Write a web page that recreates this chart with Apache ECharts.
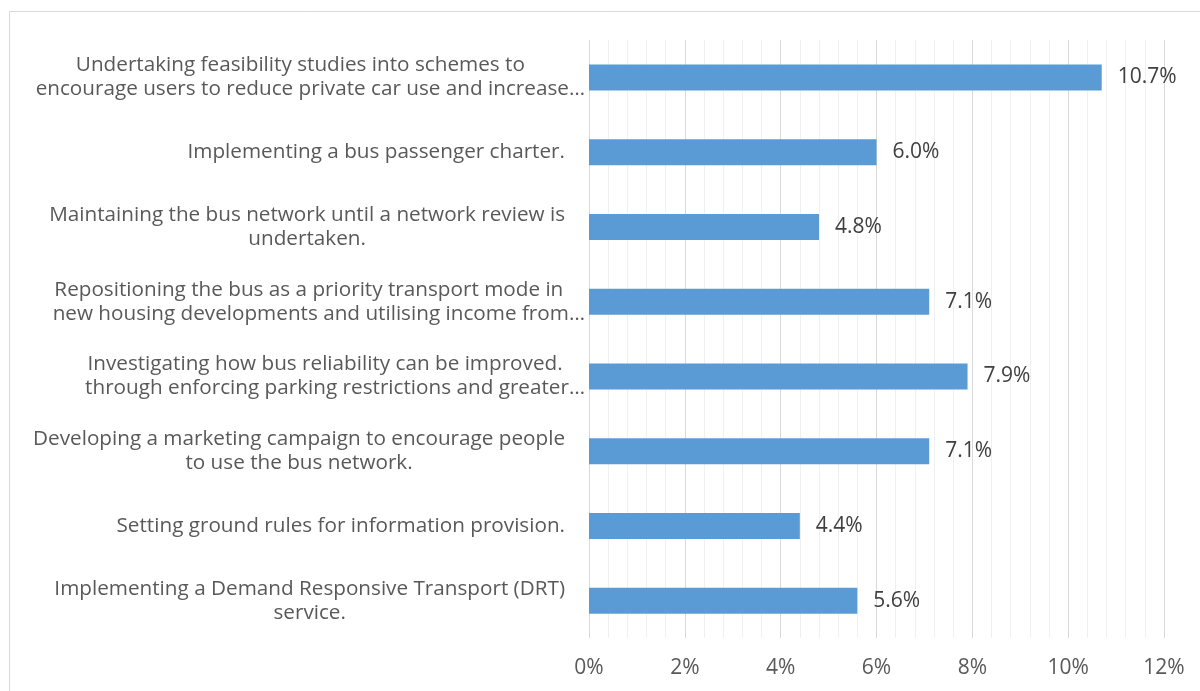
<!DOCTYPE html>
<html>
<head>
<meta charset="utf-8">
<script src="https://cdn.jsdelivr.net/npm/echarts@6/dist/echarts.min.js"></script>
<style>
html,body{margin:0;padding:0;background:#fff;}
#chart{width:1200px;height:691px;}
</style>
</head>
<body>
<div id="chart"></div>
<script>
var categories = [
  "Undertaking feasibility studies into schemes to\nencourage users to reduce private car use and increase\u2026",
  "Implementing a bus passenger charter.",
  "Maintaining the bus network until a network review is\nundertaken.",
  "Repositioning the bus as a priority transport mode in\nnew housing developments and utilising income from\u2026",
  "Investigating how bus reliability can be improved.\nthrough enforcing parking restrictions and greater\u2026",
  "Developing a marketing campaign to encourage people\nto use the bus network.",
  "Setting ground rules for information provision.",
  "Implementing a Demand Responsive Transport (DRT)\nservice."
];
var values = [10.7, 6.0, 4.8, 7.1, 7.9, 7.1, 4.4, 5.6];
var xTicks = [0, 2, 4, 6, 8, 10, 12];

var FONT = '"Open Sans"';
var chart = echarts.init(document.getElementById('chart'));
chart.setOption({
  animation: false,
  backgroundColor: '#ffffff',
  graphic: [{
    type: 'rect',
    shape: {x: 9.5, y: 11.5, width: 1250, height: 750},
    style: {fill: 'none', stroke: '#d9d9d9', lineWidth: 1},
    silent: true
  }],
  grid: {left: 589, right: 36, top: 40, bottom: 53},
  xAxis: {
    type: 'value',
    min: xTicks[0],
    max: xTicks[xTicks.length - 1],
    interval: 2,
    axisLine: {show: false},
    axisTick: {show: false},
    axisLabel: {
      formatter: function (v) { return v + '%'; },
      color: '#595959', fontFamily: FONT, fontSize: 21, margin: 20
    },
    splitLine: {show: true, lineStyle: {color: '#d9d9d9', width: 1}},
    minorTick: {show: false, splitNumber: 5},
    minorSplitLine: {show: true, lineStyle: {color: '#f0f0f0', width: 1}}
  },
  yAxis: {
    type: 'category',
    inverse: true,
    data: categories,
    axisLine: {show: false},
    axisTick: {show: false},
    axisLabel: {
      margin: 4,
      formatter: function (v) {
        var lines = v.split('\n');
        var trunc = v.indexOf('\u2026') >= 0;
        return lines.map(function (s) {
          if (!trunc) return '{p|' + s + '}';
          return (s.indexOf('\u2026') >= 0 ? '{e|' : '{c|') + s + '}';
        }).join('\n');
      },
      rich: {
        p: {align: 'center', color: '#595959', fontFamily: FONT, fontSize: 20.7, lineHeight: 24, padding: [0, 20, 0, 0]},
        c: {align: 'center', color: '#595959', fontFamily: FONT, fontSize: 20.7, lineHeight: 24},
        e: {align: 'center', color: '#595959', fontFamily: FONT, fontSize: 20.7, lineHeight: 24, padding: [0, 0, 0, 20]}
      }
    }
  },
  series: [{
    type: 'bar',
    data: values,
    barWidth: 26,
    itemStyle: {color: '#5b9bd5'},
    label: {
      show: true,
      position: 'right',
      distance: 16,
      formatter: function (p) { return p.value.toFixed(1) + '%'; },
      color: '#404040', fontFamily: FONT, fontSize: 21
    }
  }]
});
</script>
</body>
</html>
